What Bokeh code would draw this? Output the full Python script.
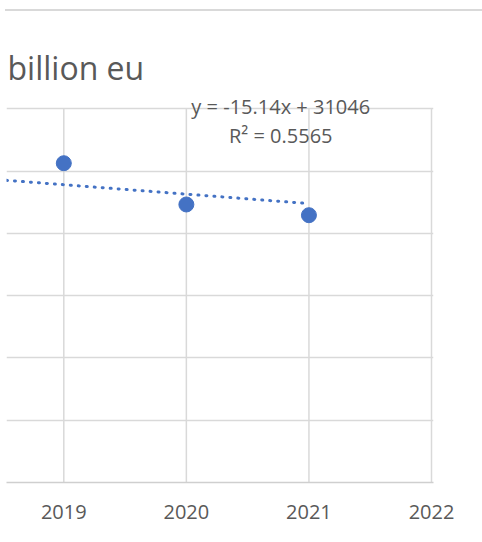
from bokeh.plotting import figure
from bokeh.models import Range1d, FixedTicker, Label, Div
from bokeh.layouts import column
from bokeh.embed import file_html
from bokeh.resources import INLINE

# ---- data ----
years = [2019, 2020, 2021]
values = [512.9, 446.6, 429.4]
tick_years = [2019, 2020, 2021, 2022]
y_ticks = [0, 100, 200, 300, 400, 500, 600]
trend_slope = -15.14
trend_intercept = 31046
trend_start, trend_end = 2018.5325, 2021
title_text = "billion eu"
eq_text = "y = -15.14x + 31046"
r2_text = "R² = 0.5565"

FONT = "Open Sans"
TXT = "#595959"
GRID = "#d9d9d9"
BLUE = "#4472C4"

p = figure(width=480, height=529, output_backend="svg", toolbar_location=None,
           x_range=Range1d(2018.5325, 2022.0163), y_range=Range1d(0, 756.6),
           min_border_left=6, min_border_right=47, min_border_top=0, min_border_bottom=58)
p.outline_line_color = None
p.background_fill_color = "white"
p.border_fill_color = "white"

p.yaxis.visible = False
p.xaxis.ticker = FixedTicker(ticks=tick_years)
p.yaxis.ticker = FixedTicker(ticks=y_ticks)
p.xaxis.major_tick_line_color = None
p.xaxis.minor_tick_line_color = None
p.xaxis.axis_line_color = "#cfcfcf"
p.xaxis.axis_line_width = 1.5
p.xaxis.major_label_text_font = FONT
p.xaxis.major_label_text_font_size = "20px"
p.xaxis.major_label_text_color = TXT
p.xaxis.major_label_standoff = 16

p.xgrid.visible = False
p.ygrid.grid_line_color = GRID
p.ygrid.grid_line_width = 1.5

# vertical gridlines only inside the plot area (0..600)
p.segment(x0=tick_years, y0=[y_ticks[0]] * len(tick_years),
          x1=tick_years, y1=[y_ticks[-1]] * len(tick_years),
          line_color=GRID, line_width=1.5)

# trend line from the fitted equation
tx = [trend_start, trend_end]
ty = [trend_slope * x + trend_intercept for x in tx]
p.line(tx, ty, line_color=BLUE, line_width=3, line_dash="1 7", line_cap="round")

p.scatter(years, values, size=15, color=BLUE)

p.add_layout(Label(x=2018.541, y=667.2, text=title_text, text_font=FONT,
                   text_font_size="32px", text_color=TXT, text_baseline="alphabetic"))
p.add_layout(Label(x=2020.77, y=604.0, text=eq_text, text_font=FONT,
                   text_font_size="20px", text_color=TXT, text_align="center",
                   text_baseline="alphabetic"))
p.add_layout(Label(x=2020.77, y=557.4, text=r2_text, text_font=FONT,
                   text_font_size="20px", text_color=TXT, text_align="center",
                   text_baseline="alphabetic"))

top_line = Div(text="", width=477, height=11, margin=(0, 0, 0, 5),
               styles={"border-bottom": "2px solid #d9d9d9", "box-sizing": "border-box"})

layout = column(top_line, p, spacing=0)
open("out.html", "w").write(file_html(layout, INLINE))
